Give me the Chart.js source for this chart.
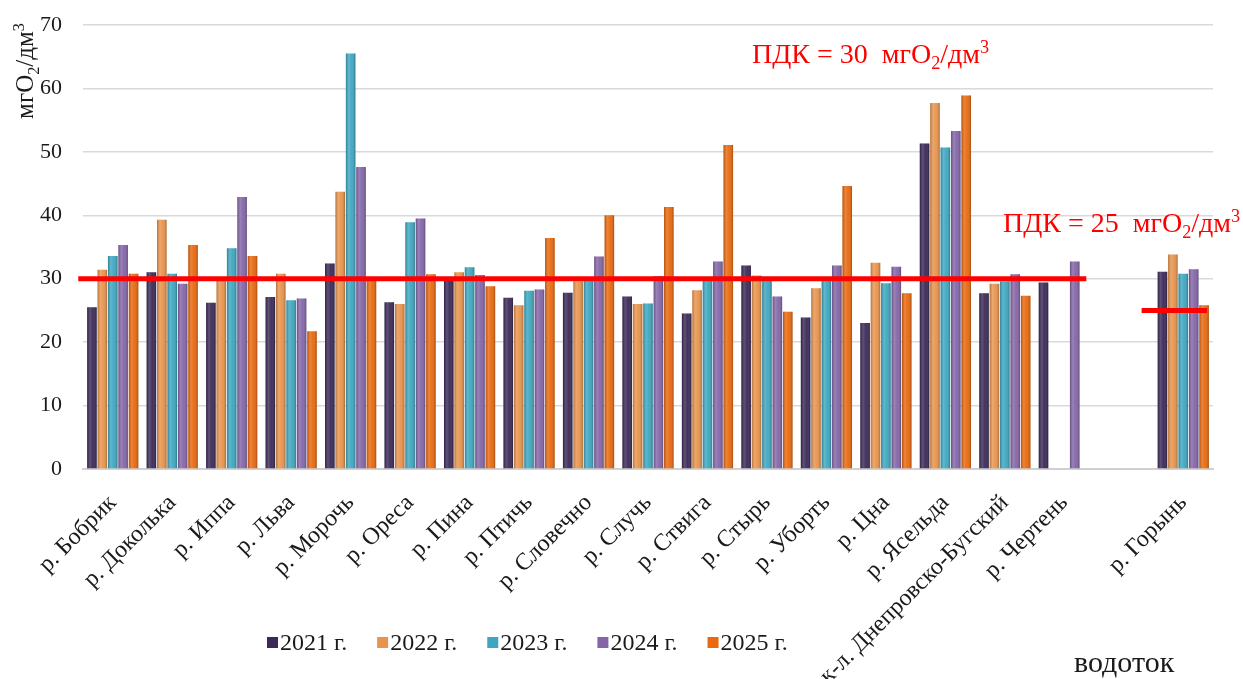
<!DOCTYPE html>
<html>
<head>
<meta charset="utf-8">
<script src="https://cdn.jsdelivr.net/npm/chart.js@4.4.1/dist/chart.umd.min.js"></script>
<style>
  html, body { margin:0; padding:0; background:#fff; }
  #wrap { width:1243px; height:679px; position:relative; }
</style>
</head>
<body>
<div id="wrap"><canvas id="chart"></canvas></div>
<script>
const rivers = ['р. Бобрик','р. Доколька','р. Иппа','р. Льва','р. Морочь','р. Ореса','р. Пина','р. Птичь',
  'р. Словечно','р. Случь','р. Ствига','р. Стырь','р. Уборть','р. Цна','р. Ясельда',
  'к-л. Днепровско-Бугский','р. Чертень','','р. Горынь'];
const years = ['2021 г.','2022 г.','2023 г.','2024 г.','2025 г.'];
const y2021 = [25.5,31.0,26.2,27.1,32.4,26.3,29.8,27.0,27.8,27.2,24.5,32.1,23.9,23.0,51.3,27.7,29.4,null,31.1];
const y2022 = [31.4,39.3,29.8,30.8,43.7,26.0,31.0,25.8,29.6,26.0,28.2,30.5,28.5,32.5,57.7,29.2,null,null,33.8];
const y2023 = [33.6,30.8,34.8,26.6,65.5,38.9,31.8,28.1,29.8,26.1,29.8,30.0,29.7,29.3,50.7,29.6,null,null,30.8];
const y2024 = [35.3,29.2,42.9,26.9,47.6,39.5,30.6,28.3,33.5,30.4,32.7,27.2,32.1,31.9,53.3,30.7,32.7,null,31.5];
const y2025 = [30.8,35.3,33.6,21.7,29.9,30.7,28.8,36.4,40.0,41.3,51.1,24.8,44.6,27.7,58.9,27.3,null,null,25.8];
const yTicks = [0,10,20,30,40,50,60,70];
// ПДК: 30 для рек до Чертени включительно, 25 для Горыни
const pdkMain = 30;
const pdkGoryn = 25;

const colors = ['#3b2a58','#e8944c','#3ea7c0','#8466a8','#e8690f'];
const serif = '"Liberation Serif", "Times New Roman", serif';
const units = [{t:'мгО'},{t:'2',sub:1},{t:'/дм'},{t:'3',sup:1}];

function richWidth(ctx, parts, size) {
  let w = 0;
  parts.forEach(p => {
    ctx.font = ((p.sub||p.sup) ? size*0.65 : size) + 'px ' + serif;
    w += ctx.measureText(p.t).width;
  });
  return w;
}
function drawRich(ctx, parts, x, y, size) {
  let cx = x;
  parts.forEach(p => {
    ctx.font = ((p.sub||p.sup) ? size*0.65 : size) + 'px ' + serif;
    const dy = p.sub ? size*0.22 : p.sup ? -size*0.36 : 0;
    ctx.fillText(p.t, cx, y + dy);
    cx += ctx.measureText(p.t).width;
  });
}

const extras = {
  id: 'extras',
  afterDatasetsDraw(chart) {
    const ctx = chart.ctx;
    // bar shading
    chart.data.datasets.forEach((ds, i) => {
      chart.getDatasetMeta(i).data.forEach((el, j) => {
        if (ds.data[j] == null) return;
        const p = el.getProps(['x','y','base','width'], true);
        const l = p.x - p.width/2;
        const g = ctx.createLinearGradient(l, 0, l + p.width, 0);
        g.addColorStop(0, 'rgba(0,0,0,0.22)');
        g.addColorStop(0.3, 'rgba(255,255,255,0.18)');
        g.addColorStop(0.6, 'rgba(255,255,255,0.04)');
        g.addColorStop(1, 'rgba(0,0,0,0.28)');
        ctx.fillStyle = g;
        ctx.fillRect(l, p.y, p.width, p.base - p.y);
      });
    });
    // ПДК lines
    const xs = chart.scales.x, ys = chart.scales.y;
    const cw = xs.getPixelForValue(1) - xs.getPixelForValue(0);
    ctx.save();
    ctx.strokeStyle = '#ff0000';
    ctx.lineWidth = 5;
    let yy = ys.getPixelForValue(pdkMain);
    ctx.beginPath();
    ctx.moveTo(xs.getPixelForValue(0) - cw*0.58, yy);
    ctx.lineTo(xs.getPixelForValue(16) + cw*0.37, yy);
    ctx.stroke();
    yy = ys.getPixelForValue(pdkGoryn);
    ctx.beginPath();
    ctx.moveTo(xs.getPixelForValue(18) - cw*0.7, yy);
    ctx.lineTo(xs.getPixelForValue(18) + cw*0.4, yy);
    ctx.stroke();
    ctx.restore();
  },
  afterDraw(chart) {
    const ctx = chart.ctx;
    ctx.save();
    ctx.textBaseline = 'alphabetic';
    ctx.textAlign = 'left';
    // annotations
    ctx.fillStyle = '#ff0000';
    drawRich(ctx, [{t:'ПДК = ' + pdkMain + '  '}].concat(units), 752, 63, 28);
    drawRich(ctx, [{t:'ПДК = ' + pdkGoryn + '  '}].concat(units), 1003, 232, 28);
    // y title
    ctx.fillStyle = '#1a1a1a';
    ctx.save();
    ctx.translate(33, 71);
    ctx.rotate(-Math.PI/2);
    const w = richWidth(ctx, units, 25);
    drawRich(ctx, units, -w/2, 0, 25);
    ctx.restore();
    // x title
    ctx.font = '30px ' + serif;
    ctx.fillText('водоток', 1074, 672);
    // legend
    let lx = 267;
    const ly = 643;
    chart.data.datasets.forEach(ds => {
      ctx.fillStyle = ds.backgroundColor;
      ctx.fillRect(lx, ly - 6, 11, 11);
      ctx.fillStyle = '#1a1a1a';
      ctx.font = '24px ' + serif;
      ctx.textBaseline = 'middle';
      ctx.fillText(ds.label, lx + 13, ly + 1);
      lx += 13 + ctx.measureText(ds.label).width + 30;
    });
    ctx.restore();
  }
};

const series = [y2021, y2022, y2023, y2024, y2025];

new Chart(document.getElementById('chart'), {
  type: 'bar',
  data: {
    labels: rivers,
    datasets: series.map((d, i) => ({
      label: years[i], data: d, backgroundColor: colors[i],
      borderWidth: 0, categoryPercentage: 0.875, barPercentage: 0.92
    }))
  },
  options: {
    responsive: true, maintainAspectRatio: false, animation: false,
    layout: { padding: { top: 25, right: 30, left: 0, bottom: 0 } },
    plugins: { legend: { display: false }, tooltip: { enabled: false } },
    scales: {
      x: {
        grid: { display: false, drawTicks: false },
        border: { color: '#d0d0d0', width: 2 },
        ticks: { autoSkip: false, minRotation: 45, maxRotation: 45, padding: 20, color: '#1a1a1a', font: { family: serif, size: 24 } },
        afterFit(s) { s.height = 210; }
      },
      y: {
        min: 0, max: 70,
        afterBuildTicks(s) { s.ticks = yTicks.map(v => ({ value: v })); },
        grid: { color: '#d9d9d9', lineWidth: 1.5, drawTicks: true, tickLength: 21, tickColor: 'rgba(0,0,0,0)' },
        border: { display: false },
        ticks: { padding: 0, color: '#1a1a1a', font: { family: serif, size: 22 } },
        afterFit(s) { s.width = 83; }
      }
    }
  },
  plugins: [extras]
});
</script>
</body>
</html>
